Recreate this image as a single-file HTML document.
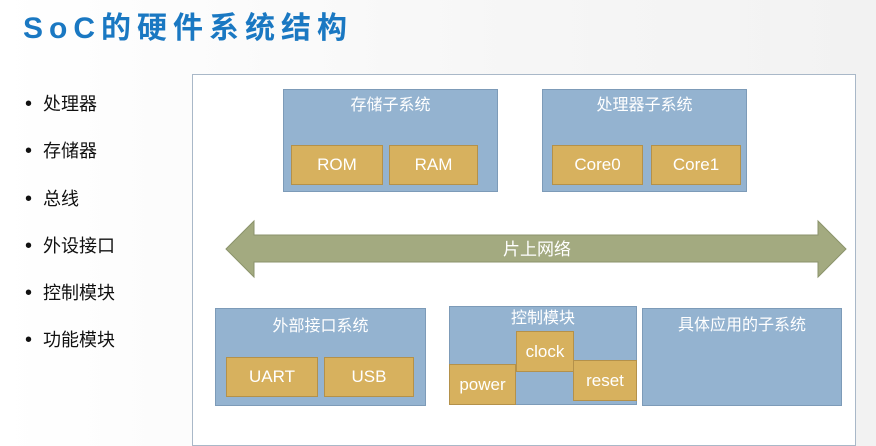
<!DOCTYPE html>
<html><head><meta charset="utf-8"><style>
body{margin:0;width:876px;height:430px;overflow:hidden;background:linear-gradient(90deg,#fff 0%,#f6f6f6 60%,#f2f2f2 100%);font-family:"Liberation Sans","Noto Sans CJK SC",sans-serif;position:relative}
.t{position:absolute;left:23px;top:3px;font-size:30px;font-weight:bold;color:#1a78c2;letter-spacing:6px}
.b{position:absolute;left:25px;font-size:18px;color:#111}
.b span{display:inline-block;width:18px;font-size:20px;vertical-align:0px}
.panel{position:absolute;left:192px;top:74px;width:662px;height:370px;background:#fff;border:1px solid #a9b8c8}
.box{position:absolute;background:#94b3d0;border:1px solid #7d9bb8;color:#fff;font-size:16px;text-align:center;box-sizing:border-box;line-height:20px}
.y{position:absolute;background:#d7b15e;border:1px solid #b4914a;color:#fff;font-size:17px;display:flex;align-items:center;justify-content:center;box-sizing:border-box}
</style></head><body>
<div class="t">SoC的硬件系统结构</div>
<div class="b" style="top:90px"><span>•</span>处理器</div>
<div class="b" style="top:137px"><span>•</span>存储器</div>
<div class="b" style="top:185px"><span>•</span>总线</div>
<div class="b" style="top:232px"><span>•</span>外设接口</div>
<div class="b" style="top:279px"><span>•</span>控制模块</div>
<div class="b" style="top:326px"><span>•</span>功能模块</div>
<div class="panel"></div>
<div class="box" style="left:283px;top:89px;width:215px;height:103px;padding-top:6px">存储子系统</div>
<div class="y" style="left:291px;top:145px;width:92px;height:40px">ROM</div>
<div class="y" style="left:389px;top:145px;width:89px;height:40px">RAM</div>
<div class="box" style="left:542px;top:89px;width:205px;height:103px;padding-top:6px">处理器子系统</div>
<div class="y" style="left:552px;top:145px;width:91px;height:40px">Core0</div>
<div class="y" style="left:651px;top:145px;width:90px;height:40px">Core1</div>
<svg style="position:absolute;left:0;top:0" width="876" height="430"><polygon points="226,249 254,221 254,235 818,235 818,221 846,249 818,277 818,262 254,262 254,277" fill="#a3aa80" stroke="#8b936b" stroke-width="1"/><text x="537" y="255" fill="#fff" font-size="17" text-anchor="middle" font-family="Liberation Sans,Noto Sans CJK SC,sans-serif">片上网络</text></svg>
<div class="box" style="left:215px;top:308px;width:211px;height:98px;padding-top:8px">外部接口系统</div>
<div class="y" style="left:226px;top:357px;width:92px;height:40px">UART</div>
<div class="y" style="left:324px;top:357px;width:90px;height:40px">USB</div>
<div class="box" style="left:449px;top:306px;width:188px;height:99px;padding-top:3px;line-height:18px">控制模块</div>
<div class="y" style="left:516px;top:331px;width:58px;height:41px">clock</div>
<div class="y" style="left:449px;top:364px;width:67px;height:41px">power</div>
<div class="y" style="left:573px;top:360px;width:64px;height:41px">reset</div>
<div class="box" style="left:642px;top:308px;width:200px;height:98px;padding-top:7px">具体应用的子系统</div>
</body></html>
